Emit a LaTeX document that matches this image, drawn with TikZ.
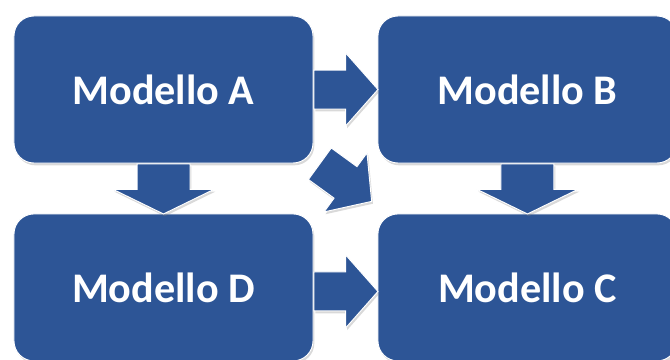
\documentclass[tikz,border=0pt]{standalone}
\usepackage{fontspec}
\setmainfont{Carlito}
\usepackage{xcolor}
\usepackage{tikz}
\usetikzlibrary{shapes.arrows, shadows, positioning}

\definecolor{modelblue}{HTML}{2D5596}

\begin{document}
\begin{tikzpicture}[
    x=0.03cm, y=-0.03cm,
    node distance = 1.5cm and 1.92cm,
    model/.style = {
        rectangle, rounded corners=0.6cm,
        minimum width=8.97cm, minimum height=4.41cm,
        fill=modelblue, draw=white, line width=0.8pt,
        drop shadow={opacity=0.3, shadow xshift=0.04cm, shadow yshift=-0.07cm},
        text=white, font=\fontsize{36}{40}\selectfont\bfseries,
        inner sep=0pt
    },
    blk/.style = {
        single arrow, fill=modelblue, draw=white, line width=0.8pt,
        drop shadow={opacity=0.3, shadow xshift=0.04cm, shadow yshift=-0.07cm},
        inner sep=0pt, minimum width=1pt
    },
    harrow/.style = {blk, minimum height=1.92cm,
        text height=0.57cm, text depth=0.57cm,
        single arrow head extend=0.51cm, single arrow tip angle=97},
    varrow/.style = {blk, rotate=-90, minimum height=1.5cm,
        text height=0.78cm, text depth=0.78cm,
        single arrow head extend=0.72cm, single arrow tip angle=128}
]
\useasboundingbox (0,0) rectangle (670,359);
\clip (0,0) rectangle (670,359);

%% Model Nodes
\node[model] (A) at (163.5,89.5) {Modello A};
\node[model, right=of A] (B) {Modello B};
\node[model, below=of A] (D) {Modello D};
\node[model, right=of D] (C) {Modello C};

%% Block Arrows
\node[harrow, anchor=tail] (ab) at (A.east) {};
\node[harrow, anchor=tail] (dc) at ([yshift=-0.12cm]D.east) {};
\node[varrow, anchor=tail] (ad) at (A.south) {};
\node[varrow, anchor=tail] (bc) at (B.south) {};
\node[harrow, rotate=-36, anchor=tail] (ac) at ([xshift=0.18cm]A.south east) {};

\end{tikzpicture}
\end{document}
